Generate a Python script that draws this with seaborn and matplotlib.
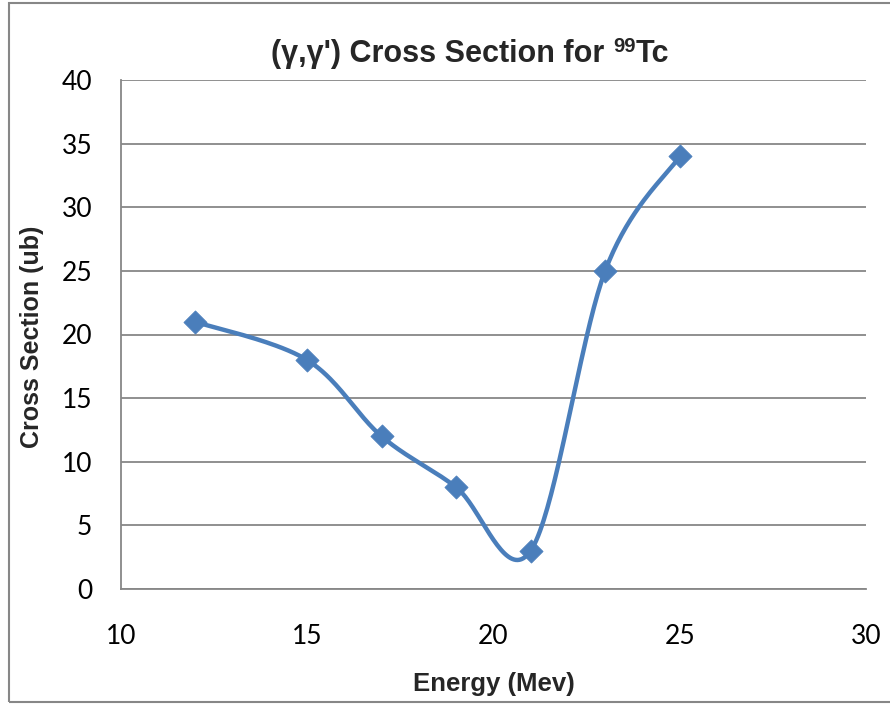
import numpy as np
import pandas as pd
import matplotlib
matplotlib.use("Agg")
import matplotlib.pyplot as plt
from matplotlib.patches import Rectangle
import seaborn as sns

# Measured (gamma, gamma') cross sections for Tc-99
energy_mev = [12, 15, 17, 19, 21, 23, 25]
cross_section_ub = [21, 18, 12, 8, 3, 25, 34]

x_ticks = [10, 15, 20, 25, 30]
y_ticks = [0, 5, 10, 15, 20, 25, 30, 35, 40]

title_main = "(γ,γ') Cross Section for "
title_mass = "99"
title_elem = "Tc"
x_label = "Energy (Mev)"
y_label = "Cross Section (ub)"

LINE_COLOR = "#4A7EBB"
GRID_COLOR = "#878787"
BOLD_FAMILY = ["Liberation Sans", "DejaVu Sans"]
W, H = 890, 705


def smoothed(xs, ys, steps=40):
    """Piecewise cubic Bezier smoothing through every point (Catmull-Rom style)."""
    pts = np.column_stack([xs, ys]).astype(float)
    n = len(pts)
    out = []
    for i in range(n - 1):
        p0 = pts[i - 1] if i > 0 else pts[i]
        p1 = pts[i]
        p2 = pts[i + 1]
        p3 = pts[i + 2] if i + 2 < n else pts[i + 1]
        c1 = p1 + (p2 - p0) / 6.0
        c2 = p2 - (p3 - p1) / 6.0
        t = np.linspace(0, 1, steps, endpoint=(i == n - 2))[:, None]
        seg = ((1 - t) ** 3) * p1 + 3 * ((1 - t) ** 2) * t * c1 \
            + 3 * (1 - t) * t ** 2 * c2 + t ** 3 * p2
        out.append(seg)
    return np.vstack(out)


sns.set_theme(style="white")
plt.rcParams["font.family"] = ["Lato", "DejaVu Sans"]

fig = plt.figure(figsize=(W / 100, H / 100), dpi=100)
ax_left, ax_right, ax_top, ax_bottom = 120.7, 866, 80, 589
ax = fig.add_axes([ax_left / W, (H - ax_bottom) / H,
                   (ax_right - ax_left) / W, (ax_bottom - ax_top) / H])

curve = smoothed(energy_mev, cross_section_ub)
curve_df = pd.DataFrame({"energy": curve[:, 0], "xs": curve[:, 1]})
points_df = pd.DataFrame({"energy": energy_mev, "xs": cross_section_ub})

sns.lineplot(data=curve_df, x="energy", y="xs", sort=False, ax=ax,
             color=LINE_COLOR, linewidth=3.2, zorder=3)
sns.scatterplot(data=points_df, x="energy", y="xs", ax=ax, marker="D",
                s=140, color=LINE_COLOR, edgecolor=LINE_COLOR, linewidth=0.5,
                zorder=4)

ax.set_xlim(10, 30)
ax.set_ylim(0, 40)
ax.set_xticks(x_ticks)
ax.set_yticks(y_ticks)
ax.tick_params(axis="both", length=0, labelsize=19, colors="black")
ax.tick_params(axis="x", pad=25)
ax.tick_params(axis="y", pad=20.5)

ax.yaxis.grid(True, color=GRID_COLOR, linewidth=1.3)
ax.xaxis.grid(False)
ax.set_axisbelow(True)

for side in ["top", "right"]:
    ax.spines[side].set_visible(False)
for side in ["left", "bottom"]:
    ax.spines[side].set_color(GRID_COLOR)
    ax.spines[side].set_linewidth(1.3)

ax_w = ax_right - ax_left
ax_h = ax_bottom - ax_top
ax.set_xlabel(x_label, fontsize=18.5, fontweight="bold", family=BOLD_FAMILY,
              va="baseline", ha="center")
ax.xaxis.set_label_coords((494 - ax_left) / ax_w, -(691 - ax_bottom) / ax_h)
ax.set_ylabel(y_label, fontsize=18, fontweight="bold", family=BOLD_FAMILY,
              va="center", ha="center")
ax.yaxis.set_label_coords((32 - ax_left) / ax_w, (ax_bottom - 337) / ax_h)

# Title with a superscripted mass number, assembled from three pieces
fig.canvas.draw()
renderer = fig.canvas.get_renderer()
base_y = (H - 62) / H
title_kw = dict(fontweight="bold", family=BOLD_FAMILY, va="baseline", ha="left")
t1 = fig.text(0, base_y, title_main, fontsize=22, **title_kw)
t2 = fig.text(0, base_y + 10 / H, title_mass, fontsize=14.5, **title_kw)
t3 = fig.text(0, base_y, title_elem, fontsize=22, **title_kw)
w1 = t1.get_window_extent(renderer).width
w2 = t2.get_window_extent(renderer).width
w3 = t3.get_window_extent(renderer).width
x0 = 470 - (w1 + w2 + w3) / 2
t1.set_x(x0 / W)
t2.set_x((x0 + w1) / W)
t3.set_x((x0 + w1 + w2) / W)

# Chart-area frame
fig.patches.append(Rectangle((8.5 / W, 3 / H), W, 699 / H,
                             transform=fig.transFigure, fill=False,
                             edgecolor=GRID_COLOR, linewidth=1.5))

fig.savefig("out.png", dpi=100)
